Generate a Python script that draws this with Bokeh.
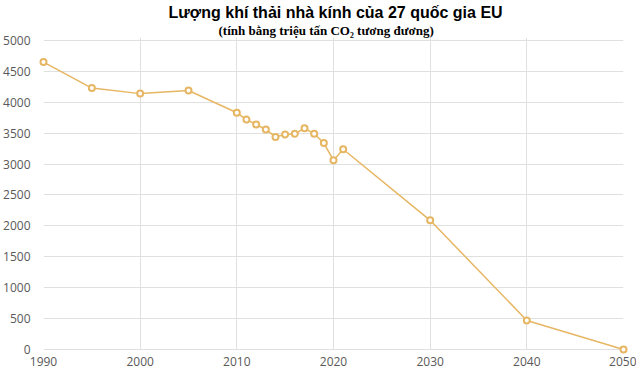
from bokeh.plotting import figure
from bokeh.models import Title, Range1d, FixedTicker
from bokeh.embed import file_html
from bokeh.resources import INLINE

years = [1990, 1995, 2000, 2005, 2010, 2011, 2012, 2013, 2014, 2015, 2016,
         2017, 2018, 2019, 2020, 2021, 2030, 2040, 2050]
emissions = [4650, 4230, 4140, 4190, 3830, 3720, 3640, 3560, 3440, 3480, 3490,
             3580, 3490, 3340, 3060, 3240, 2090, 470, 0]
x_ticks = [1990, 2000, 2010, 2020, 2030, 2040, 2050]
y_ticks = [0, 500, 1000, 1500, 2000, 2500, 3000, 3500, 4000, 4500, 5000]

title_text = "Lượng khí thải nhà kính của 27 quốc gia EU"
subtitle_text = "(tính bằng triệu tấn CO₂ tương đương)"

line_color = "#E6B663"
grid_color = "#E0E0E0"
label_color = "#595959"

p = figure(width=636, height=373, output_backend="svg", toolbar_location=None,
           x_range=Range1d(1990, 2050), y_range=Range1d(0, 5048),
           min_border_left=43, min_border_right=13, min_border_bottom=24,
           min_border_top=37)

p.add_layout(Title(text=subtitle_text, text_font="Liberation Serif",
                   text_font_size="13px", text_font_style="bold",
                   text_color="#000000", align="left", standoff=0,
                   offset=175), "above")
p.add_layout(Title(text=title_text, text_font="Liberation Sans",
                   text_font_size="16px", text_font_style="bold",
                   text_color="#000000", align="left", standoff=0,
                   offset=125), "above")

p.line(years, emissions, line_color=line_color, line_width=1.5, level="overlay")
p.scatter(years, emissions, size=6, line_color=line_color, line_width=2,
          fill_color="#FFFFFF", level="overlay")

p.xaxis.ticker = FixedTicker(ticks=x_ticks)
p.yaxis.ticker = FixedTicker(ticks=y_ticks)
for ax in (p.xaxis, p.yaxis):
    ax.major_tick_line_color = None
    ax.minor_tick_line_color = None
    ax.major_tick_out = 0
    ax.major_tick_in = 0
    ax.minor_tick_out = 0
    ax.major_label_text_color = label_color
    ax.major_label_text_font = "Open Sans"
    ax.major_label_text_font_size = "12px"
p.yaxis.axis_line_color = None
p.xaxis.axis_line_color = grid_color
p.xaxis.major_label_standoff = 7
p.yaxis.major_label_standoff = 13

p.xgrid.grid_line_color = grid_color
p.ygrid.grid_line_color = grid_color
p.outline_line_color = None

open("out.html", "w").write(file_html(p, INLINE))
